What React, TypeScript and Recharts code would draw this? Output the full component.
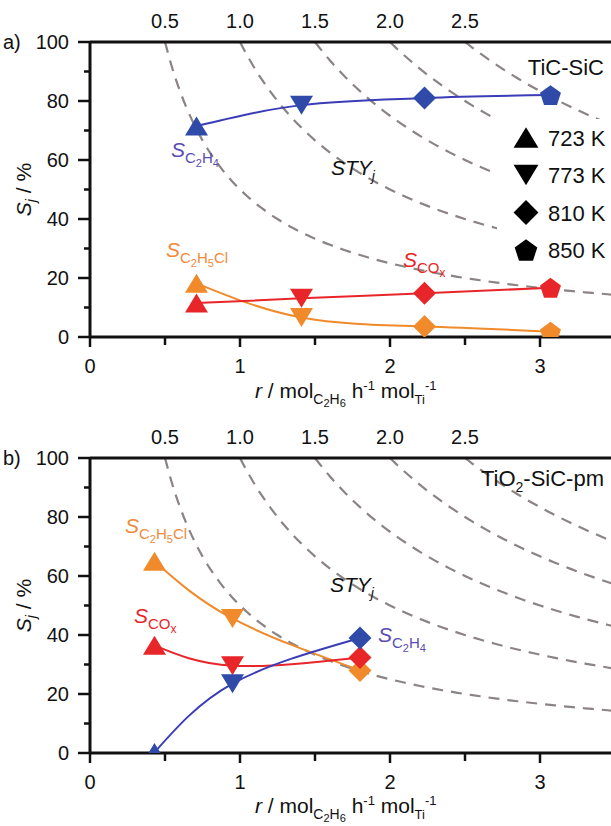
import React from "react";
import { ComposedChart, Line, Scatter, XAxis, YAxis } from "recharts";

const SANS = '"Liberation Sans", Arial, Helvetica, sans-serif';

const temperatures = ["723 K", "773 K", "810 K", "850 K"];

// a) TiC-SiC
const rTiC = [0.71, 1.41, 2.23, 3.07];
const ethyleneTiC = [71.5, 78.6, 81, 82];
const coxTiC = [11.5, 13.1, 14.8, 16.7];
const ethylChlorideTiC = [18.2, 6.6, 3.6, 1.8];

// b) TiO2-SiC-pm
const rTiO2 = [0.43, 0.95, 1.8];
const ethyleneTiO2 = [0.2, 23.5, 39];
const coxTiO2 = [36.5, 29.6, 32.4];
const ethylChlorideTiO2 = [65, 45.6, 28];

// STY_j isolines (S = STY / r), labelled along the top
const styLevels = [0.5, 1.0, 1.5, 2.0, 2.5];
const xTicks = [0, 0.5, 1, 1.5, 2, 2.5, 3, 3.5];
const yTicks = [0, 10, 20, 30, 40, 50, 60, 70, 80, 90, 100];

const BLUE = "#2f4aa8";
const BLUE_LINE = "#3b3db6";
const BLUE_TEXT = "#5a4cb3";
const RED = "#e8262a";
const ORANGE = "#f08a2a";
const ORANGE_TEXT = "#f08a3c";
const GREY = "#8c8484";

const isolines = styLevels.map((sty) => {
  const pts: { r: number; s: number }[] = [];
  for (let r = sty; r <= 3.5001; r += 0.05) pts.push({ r, s: (100 * sty) / r });
  return pts;
});

function Marker({ cx, cy, kind, fill, k = 1 }: any) {
  if (cx == null || cy == null) return null;
  if (kind === 0) {
    const w = 11.5 * k, h = 9.5 * k;
    return <polygon points={`${cx},${cy - h} ${cx + w},${cy + h} ${cx - w},${cy + h}`} fill={fill} />;
  }
  if (kind === 1) {
    const w = 11.5 * k, h = 9.5 * k;
    return <polygon points={`${cx - w},${cy - h} ${cx + w},${cy - h} ${cx},${cy + h}`} fill={fill} />;
  }
  if (kind === 2) {
    const d = 11.5 * k;
    return <polygon points={`${cx},${cy - d} ${cx + d},${cy} ${cx},${cy + d} ${cx - d},${cy}`} fill={fill} />;
  }
  const R = 11 * k;
  const oy = cy + R * 0.1;
  const pts = [0, 1, 2, 3, 4]
    .map((i) => {
      const a = ((-90 + 72 * i) * Math.PI) / 180;
      return `${cx + R * Math.cos(a)},${oy + R * Math.sin(a)}`;
    })
    .join(" ");
  return <polygon points={pts} fill={fill} />;
}

// text with sub/superscripts; off = baseline shift downwards
type Seg = { t: string; size: number; off?: number; italic?: boolean };
function Rich({ x, y, segs, fill = "#111", anchor = "start", rotate }: any) {
  let prev = 0;
  return (
    <text
      x={x}
      y={y}
      fill={fill}
      fontFamily={SANS}
      textAnchor={anchor}
      transform={rotate ? `rotate(${rotate} ${x} ${y})` : undefined}
    >
      {segs.map((s: Seg, i: number) => {
        const off = s.off || 0;
        const dy = off - prev;
        prev = off;
        return (
          <tspan key={i} dy={dy} fontSize={s.size} fontStyle={s.italic ? "italic" : "normal"}>
            {s.t}
          </tspan>
        );
      })}
    </text>
  );
}

const sC2H4: Seg[] = [
  { t: "S", size: 21, italic: true },
  { t: "C", size: 15, off: 6 },
  { t: "2", size: 11, off: 10 },
  { t: "H", size: 15, off: 6 },
  { t: "4", size: 11, off: 10 },
];
const sC2H5Cl: Seg[] = [
  { t: "S", size: 21, italic: true },
  { t: "C", size: 15, off: 6 },
  { t: "2", size: 11, off: 10 },
  { t: "H", size: 15, off: 6 },
  { t: "5", size: 11, off: 10 },
  { t: "Cl", size: 15, off: 6 },
];
const sCOx: Seg[] = [
  { t: "S", size: 21, italic: true },
  { t: "CO", size: 15, off: 6 },
  { t: "x", size: 12, off: 10 },
];
const styJ: Seg[] = [
  { t: "STY", size: 21, italic: true },
  { t: "j", size: 14, off: 6, italic: true },
];
const yTitle: Seg[] = [
  { t: "S", size: 21, italic: true },
  { t: "j", size: 14, off: 5, italic: true },
  { t: " / %", size: 21, off: 0 },
];
const xTitle: Seg[] = [
  { t: "r", size: 21, italic: true },
  { t: " / mol", size: 21 },
  { t: "C", size: 14, off: 6 },
  { t: "2", size: 11, off: 9 },
  { t: "H", size: 14, off: 6 },
  { t: "6", size: 11, off: 9 },
  { t: " h", size: 21, off: 0 },
  { t: "-1", size: 13, off: -8 },
  { t: " mol", size: 21, off: 0 },
  { t: "Ti", size: 13, off: 6 },
  { t: "-1", size: 13, off: -8 },
];

const YTick = ({ x, y, payload }: any) => {
  const v = payload.value;
  const major = v % 20 === 0;
  return (
    <g>
      <line x1={x - (major ? 12 : 6)} x2={x} y1={y} y2={y} stroke="#111" strokeWidth={2.5} />
      {major && (
        <text x={x - 21} y={y} dy="0.35em" textAnchor="end" fontSize={20} fontFamily={SANS} fill="#111">
          {v}
        </text>
      )}
    </g>
  );
};

const XTick = ({ x, y, payload }: any) => {
  const v = payload.value;
  const major = Number.isInteger(v);
  return (
    <g>
      <line x1={x} x2={x} y1={y} y2={y + (major ? 10 : 8)} stroke="#111" strokeWidth={2.5} />
      {major && (
        <text x={x} y={y + 36} textAnchor="middle" fontSize={20} fontFamily={SANS} fill="#111">
          {v}
        </text>
      )}
    </g>
  );
};

const TopTick = ({ x, y, payload }: any) => (
  <text x={x} y={y - 14} textAnchor="middle" fontSize={20} fontFamily={SANS} fill="#111">
    {payload.value.toFixed(1)}
  </text>
);

function series(r: number[], s: number[]) {
  return r.map((x, i) => ({ r: x, s: s[i], k: i }));
}

function Panel({ top, height, r, eth, cox, ecl, tag, catalyst, labels, legend, lineTypes }: any) {
  const ethPts = series(r, eth);
  const coxPts = series(r, cox);
  const eclPts = series(r, ecl);
  return (
    <div style={{ position: "absolute", left: 0, top, width: 640, height }}>
      <ComposedChart
        width={640}
        height={height}
        margin={{ top: 12, right: 25, bottom: height - 337 - 30, left: 30 }}
      >
        <XAxis
          xAxisId="bottom"
          dataKey="r"
          type="number"
          domain={[0, 3.5]}
          ticks={xTicks}
          allowDataOverflow
          height={30}
          tickSize={0}
          tickMargin={0}
          tickLine={false}
          tick={<XTick />}
          axisLine={{ stroke: "#111", strokeWidth: 3 }}
          interval={0}
        />
        <XAxis
          xAxisId="top"
          orientation="top"
          dataKey="r"
          type="number"
          domain={[0, 3.5]}
          ticks={styLevels}
          allowDataOverflow
          height={30}
          tickSize={0}
          tickMargin={0}
          tickLine={false}
          tick={<TopTick />}
          axisLine={{ stroke: "#111", strokeWidth: 3 }}
          interval={0}
        />
        <YAxis
          dataKey="s"
          type="number"
          domain={[0, 100]}
          ticks={yTicks}
          allowDataOverflow
          width={60}
          tickSize={0}
          tickMargin={0}
          tickLine={false}
          tick={<YTick />}
          axisLine={{ stroke: "#111", strokeWidth: 3 }}
          interval={0}
        />
        {isolines.map((pts, i) => (
          <Line
            key={"iso" + i}
            xAxisId="top"
            data={pts}
            dataKey="s"
            type="monotone"
            stroke={GREY}
            strokeWidth={2.2}
            strokeDasharray="11 8"
            dot={false}
            isAnimationActive={false}
          />
        ))}
        <Line xAxisId="bottom" data={eclPts} dataKey="s" type={lineTypes[2]} stroke={ORANGE} strokeWidth={2} dot={false} isAnimationActive={false} />
        <Line xAxisId="bottom" data={coxPts} dataKey="s" type={lineTypes[1]} stroke={RED} strokeWidth={2} dot={false} isAnimationActive={false} />
        <Line xAxisId="bottom" data={ethPts} dataKey="s" type={lineTypes[0]} stroke={BLUE_LINE} strokeWidth={2} dot={false} isAnimationActive={false} />
        <Scatter xAxisId="bottom" data={eclPts} dataKey="s" isAnimationActive={false}
          shape={(p: any) => <Marker cx={p.cx} cy={p.cy} kind={p.payload.k} fill={ORANGE} />} />
        <Scatter xAxisId="bottom" data={coxPts} dataKey="s" isAnimationActive={false}
          shape={(p: any) => <Marker cx={p.cx} cy={p.cy} kind={p.payload.k} fill={RED} />} />
        <Scatter xAxisId="bottom" data={ethPts} dataKey="s" isAnimationActive={false}
          shape={(p: any) => <Marker cx={p.cx} cy={p.cy} kind={p.payload.k} fill={BLUE} />} />
      </ComposedChart>
      <svg width={640} height={height} style={{ position: "absolute", left: 0, top: 0, pointerEvents: "none" }}>
        <text x={3} y={49} fontSize={20} fontFamily={SANS} fill="#111">{tag}</text>
        <Rich x={31} y={189.5} segs={yTitle} anchor="middle" rotate={-90} />
        <Rich x={255} y={labels.xTitleY} segs={xTitle} />
        <Rich x={604} y={labels.catY} segs={catalyst} anchor="end" />
        <Rich x={labels.eth[0]} y={labels.eth[1]} segs={sC2H4} fill={BLUE_TEXT} />
        <Rich x={labels.ecl[0]} y={labels.ecl[1]} segs={sC2H5Cl} fill={ORANGE_TEXT} />
        <Rich x={labels.cox[0]} y={labels.cox[1]} segs={sCOx} fill={RED} />
        <Rich x={labels.sty[0]} y={labels.sty[1]} segs={styJ} />
        {legend && (
          <g>
            <rect x={497} y={119} width={120} height={150} fill="#fff" />
            {temperatures.map((t, i) => {
              const cy = 137.5 + i * 37.5;
              return (
                <g key={t}>
                  <Marker cx={526} cy={cy} kind={i} fill="#000" k={1.08} />
                  <text x={548} y={cy + 8} fontSize={22} fontFamily={SANS} fill="#111">{t}</text>
                </g>
              );
            })}
          </g>
        )}
      </svg>
    </div>
  );
}

export default function App() {
  return (
    <div style={{ position: "relative", width: 611, height: 826, overflow: "hidden", background: "#fff" }}>
      <style>{`body{margin:0}`}</style>
      <Panel
        top={0}
        height={416}
        r={rTiC}
        eth={ethyleneTiC}
        cox={coxTiC}
        ecl={ethylChlorideTiC}
        tag="a)"
        catalyst={[{ t: "TiC-SiC", size: 22 }]}
        legend
        lineTypes={["monotone", "monotone", "natural"]}
        labels={{ xTitleY: 398, catY: 75, eth: [171, 157], ecl: [166, 257], cox: [403, 267], sty: [331, 175] }}
      />
      <Panel
        top={416}
        height={410}
        r={rTiO2}
        eth={ethyleneTiO2}
        cox={coxTiO2}
        ecl={ethylChlorideTiO2}
        tag="b)"
        catalyst={[
          { t: "TiO", size: 22 },
          { t: "2", size: 14, off: 6 },
          { t: "-SiC-pm", size: 22, off: 0 },
        ]}
        legend={false}
        lineTypes={["natural", "natural", "natural"]}
        labels={{ xTitleY: 397, catY: 70, eth: [378, 226], ecl: [125, 117], cox: [134, 207], sty: [330, 176] }}
      />
    </div>
  );
}
